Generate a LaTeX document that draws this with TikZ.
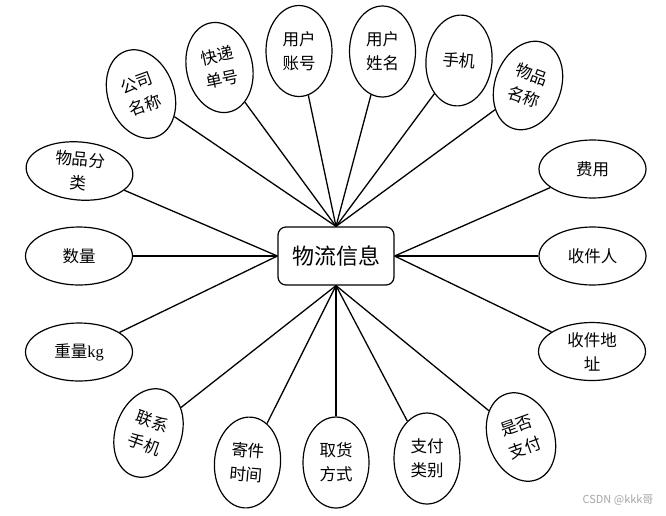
\documentclass[tikz,border=0pt]{standalone}
\usepackage{fontspec}
\newfontfamily\cjk{Noto Sans CJK SC}
\newfontfamily\lat{Liberation Serif}
\usetikzlibrary{shapes.geometric}
\begin{document}
\begin{tikzpicture}[x=1pt,y=-1pt,
  attr/.style={draw, ellipse, line width=1.2pt, inner sep=0pt, font=\cjk\fontsize{16.5}{24}\selectfont, align=center},
  hz/.style={attr, minimum width=107pt, minimum height=58pt},
  vt/.style={attr, minimum width=66pt, minimum height=91pt},
  link/.style={line width=1.3pt}]
\useasboundingbox (0,0) rectangle (666,515);
\node[draw, rounded corners=8pt, line width=1.2pt, minimum width=116pt, minimum height=58pt, inner sep=0pt, font=\cjk\fontsize{22}{26}\selectfont] (hub) at (336,256) {物流信息};
% top
\node[vt, rotate=20] (gs) at (141,94) {公司\\名称};
\node[vt, rotate=12] (kd) at (219.5,67.5) {快递\\单号};
\node[vt] (zh) at (299,51) {用户\\账号};
\node[vt] (xm) at (382.5,51.5) {用户\\姓名};
\node[vt, rotate=-5] (sj) at (459,60.5) {手机};
\node[vt, rotate=-20] (wm) at (528,85.5) {物品\\名称};
% right
\node[hz] (fy) at (592.5,169) {费用};
\node[hz] (sr) at (592.5,256) {收件人};
\node[hz] (dz) at (592,351.5) {收件地\\址};
% bottom
\node[vt, rotate=20] (sf) at (521,437) {是否\\支付};
\node[vt] (lb) at (427,458.5) {支付\\类别};
\node[vt] (qh) at (336,462.5) {取货\\方式};
\node[vt, rotate=-5] (jj) at (247.5,462.5) {寄件\\时间};
\node[vt, rotate=-20] (lx) at (148.5,433) {联系\\手机};
% left
\node[hz, rotate=-5] (fl) at (79.5,171) {物品分\\类};
\node[hz] (sl) at (79,256) {数量};
\node[hz] (zl) at (79,352) {重量{\lat kg}};
% links
\foreach \n in {gs,kd,zh,xm,sj,wm} \draw[link] (\n) -- (hub.north);
\foreach \n in {fy,sr,dz} \draw[link] (\n) -- (hub.east);
\foreach \n in {sf,lb,qh,jj,lx} \draw[link] (\n) -- (hub.south);
\foreach \n in {fl,sl,zl} \draw[link] (\n) -- (hub.west);
\node[font=\cjk\fontsize{11}{11}\selectfont, text=black!35, anchor=east] (wmk) at (657,500) {CSDN @kkk哥};
\end{tikzpicture}
\end{document}
